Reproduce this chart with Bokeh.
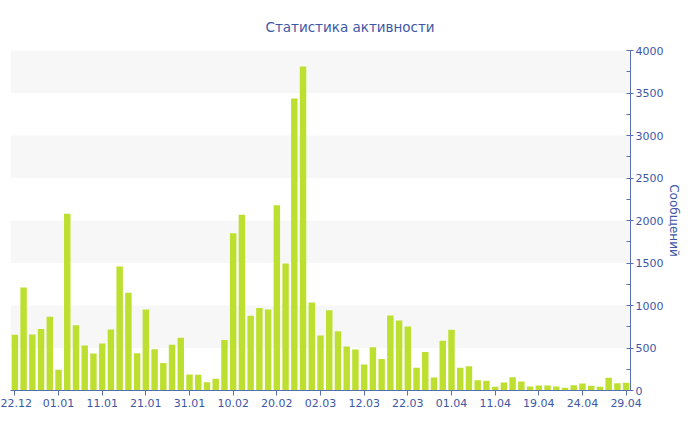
from bokeh.plotting import figure
from bokeh.models import Range1d, FixedTicker, SingleIntervalTicker, ColumnDataSource
from bokeh.embed import file_html
from bokeh.resources import INLINE

dates = [
    "22.12", "24.12", "26.12", "28.12", "30.12",
    "01.01", "03.01", "05.01", "07.01", "09.01",
    "11.01", "13.01", "15.01", "17.01", "19.01",
    "21.01", "23.01", "25.01", "27.01", "29.01",
    "31.01", "02.02", "04.02", "06.02", "08.02",
    "10.02", "12.02", "14.02", "16.02", "18.02",
    "20.02", "22.02", "24.02", "26.02", "28.02",
    "02.03", "04.03", "06.03", "08.03", "10.03",
    "12.03", "14.03", "16.03", "18.03", "20.03",
    "22.03", "24.03", "26.03", "28.03", "30.03",
    "01.04", "03.04", "05.04", "07.04", "09.04",
    "11.04", "13.04", "15.04", "17.04", "18.04",
    "19.04", "20.04", "21.04", "22.04", "23.04",
    "24.04", "25.04", "26.04", "27.04", "28.04",
    "29.04",
]

messages = [
    655, 1212, 659, 725, 867, 243, 2078, 769, 529, 435,
    553, 718, 1459, 1149, 439, 953, 486, 325, 537, 620,
    188, 184, 98, 137, 594, 1851, 2067, 878, 972, 953,
    2180, 1494, 3435, 3812, 1035, 647, 945, 698, 518, 482,
    306, 510, 372, 882, 824, 753, 267, 453, 153, 584,
    714, 267, 286, 122, 114, 43, 94, 157, 106, 47,
    59, 59, 47, 31, 63, 82, 55, 43, 149, 86,
    90,
]

TITLE = "Статистика активности"
Y_TITLE = "Сообщений"

TEXT = "#3d57a7"
AXIS = "#5a6fb2"
BAR = "#bde030"
BAND = "#f7f7f7"
FONT = "DejaVu Sans"

idx = list(range(len(dates)))
src = ColumnDataSource(dict(x=idx, y=messages))

p = figure(
    width=684, height=414,
    output_backend="svg", toolbar_location=None,
    x_range=Range1d(-0.5, len(dates) - 0.5), y_range=Range1d(0, 4000),
    y_axis_location="right",
    min_border_left=10, min_border_right=0, min_border_top=50, min_border_bottom=24,
)
p.outline_line_color = None
p.background_fill_color = "white"
p.border_fill_color = "white"

p.vbar(x="x", top="y", bottom=0, width=0.74, source=src, fill_color=BAR, line_color=None)

# title
p.title.text = TITLE
p.title.align = "left"
p.title.offset = 255
p.title.standoff = 32
p.title.text_font = FONT
p.title.text_font_size = "13.5px"
p.title.text_font_style = "normal"
p.title.text_color = TEXT

# x axis
xa = p.xaxis[0]
ticks = idx[::5]
xa.ticker = FixedTicker(ticks=ticks)
xa.major_label_overrides = {i: dates[i] for i in ticks}
xa.major_tick_in = 0
xa.major_tick_out = 5
xa.minor_tick_line_color = None
xa.axis_line_color = AXIS
xa.major_tick_line_color = AXIS
xa.major_label_text_color = TEXT
xa.major_label_text_font = FONT
xa.major_label_text_font_size = "11px"
xa.major_label_standoff = 3

# y axis
ya = p.yaxis[0]
ya.ticker = SingleIntervalTicker(interval=500, num_minor_ticks=2)
ya.major_tick_in = 3
ya.major_tick_out = 3
ya.minor_tick_in = 4
ya.minor_tick_out = 0
ya.axis_line_color = AXIS
ya.major_tick_line_color = AXIS
ya.minor_tick_line_color = AXIS
ya.major_label_text_color = TEXT
ya.major_label_text_font = FONT
ya.major_label_text_font_size = "11px"
ya.major_label_standoff = 2
ya.axis_label = Y_TITLE
ya.axis_label_standoff = 1
ya.axis_label_text_color = TEXT
ya.axis_label_text_font = FONT
ya.axis_label_text_font_size = "12px"
ya.axis_label_text_font_style = "normal"

p.xgrid.visible = False
p.ygrid.grid_line_color = None
p.ygrid.band_fill_color = BAND
p.ygrid.band_fill_alpha = 1

open("out.html", "w").write(file_html(p, INLINE))
